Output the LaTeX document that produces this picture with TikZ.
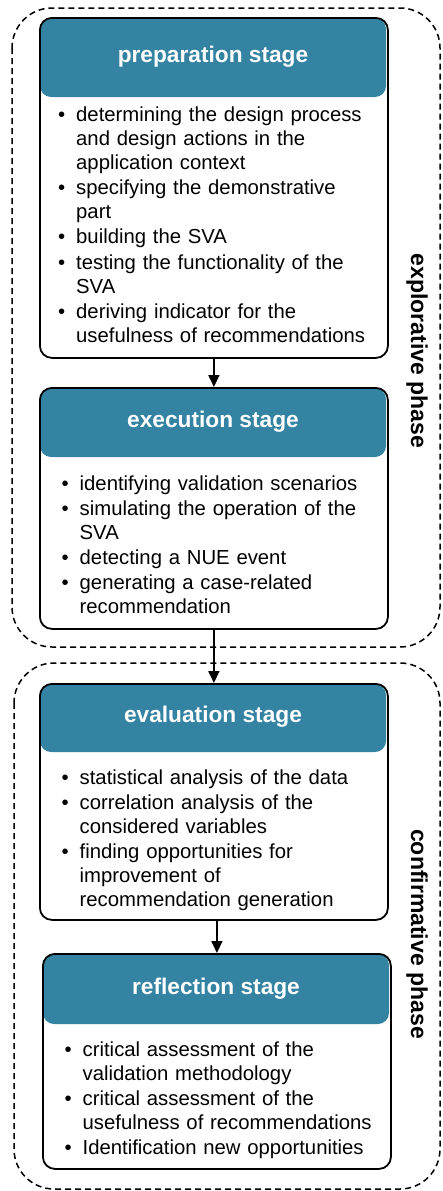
\documentclass[tikz,border=0pt]{standalone}
\usepackage{fontspec}
\setmainfont{Liberation Sans}
\usetikzlibrary{arrows.meta}
\definecolor{hdr}{RGB}{52,131,162}
\newcommand\bitem[1]{\par\noindent\hangindent=18pt\hangafter=1\makebox[18pt][l]{\textbullet}#1}
\tikzset{
  phasebox/.style={draw, dash pattern=on 6pt off 4pt, line width=1.5pt, rounded corners=40pt},
  stagebox/.style={draw, line width=1.8pt, rounded corners=12pt, anchor=north west, inner sep=0pt},
  hdrfill/.style={fill=hdr, rounded corners=11pt},
  hdrtext/.style={text=white, font=\fontsize{22.7}{26}\selectfont\bfseries},
  bodytext/.style={anchor=north west, text width=320pt, inner sep=0pt,
    font=\fontsize{20.3}{24}\selectfont\setlength{\parskip}{1.2pt}},
  phasetext/.style={font=\fontsize{23}{26}\selectfont\bfseries, rotate=-90},
  flow/.style={line width=1.8pt, -{Triangle[length=12pt,width=11pt]}}
}
\begin{document}
\begin{tikzpicture}[x=1pt,y=-1pt]
\useasboundingbox (0,0) rectangle (443,1191);
% phase frames
\draw[phasebox] (12,8) rectangle (440,647);
\draw[phasebox] (14,663) rectangle (440,1189);
\node[phasetext] (explo) at (417,351) {explorative phase};
\node[phasetext] (confi) at (417,934) {confirmative phase};

% preparation
\fill[hdrfill] (40,18) rectangle (386,97);
\node[stagebox, minimum width=348pt, minimum height=340pt] (prep) at (39,17) {};
\node[hdrtext] (preph) at (213,57) {preparation stage};
\node[bodytext] (prepb) at (58,96) {%
\bitem{determining the design process\newline and design actions in the\newline application context}
\bitem{specifying the demonstrative\newline part}
\bitem{building the SVA}
\bitem{testing the functionality of the\newline SVA}
\bitem{deriving indicator for the\newline usefulness of recommendations}\par};

% execution
\fill[hdrfill] (40,388) rectangle (386,457);
\node[stagebox, minimum width=348pt, minimum height=241pt] (exec) at (39,387) {};
\node[hdrtext] (exech) at (213,422) {execution stage};
\node[bodytext] (execb) at (61.5,464.7) {%
\bitem{identifying validation scenarios}
\bitem{simulating the operation of the\newline SVA}
\bitem{detecting a NUE event}
\bitem{generating a case-related\newline recommendation}\par};

% evaluation
\fill[hdrfill] (40,684) rectangle (386,752);
\node[stagebox, minimum width=348pt, minimum height=236pt] (eval) at (39,683) {};
\node[hdrtext] (evalh) at (213,717) {evaluation stage};
\node[bodytext] (evalb) at (61.5,759) {%
\bitem{statistical analysis of the data}
\bitem{correlation analysis of the\newline considered variables}
\bitem{finding opportunities for\newline improvement of\newline recommendation generation}\par};

% reflection
\fill[hdrfill] (43,954) rectangle (389,1024);
\node[stagebox, minimum width=348pt, minimum height=215pt] (refl) at (42,953) {};
\node[hdrtext] (reflh) at (216,989) {reflection stage};
\node[bodytext] (reflb) at (64.5,1031) {%
\bitem{critical assessment of the\newline validation methodology}
\bitem{critical assessment of the\newline usefulness of recommendations}
\bitem{Identification new opportunities}\par};

% connectors
\draw[flow] (prep.south) -- (exec.north);
\draw[flow] (exec.south) -- (eval.north);
\draw[flow] (eval.south -| refl.north) -- (refl.north);
\end{tikzpicture}
\end{document}
